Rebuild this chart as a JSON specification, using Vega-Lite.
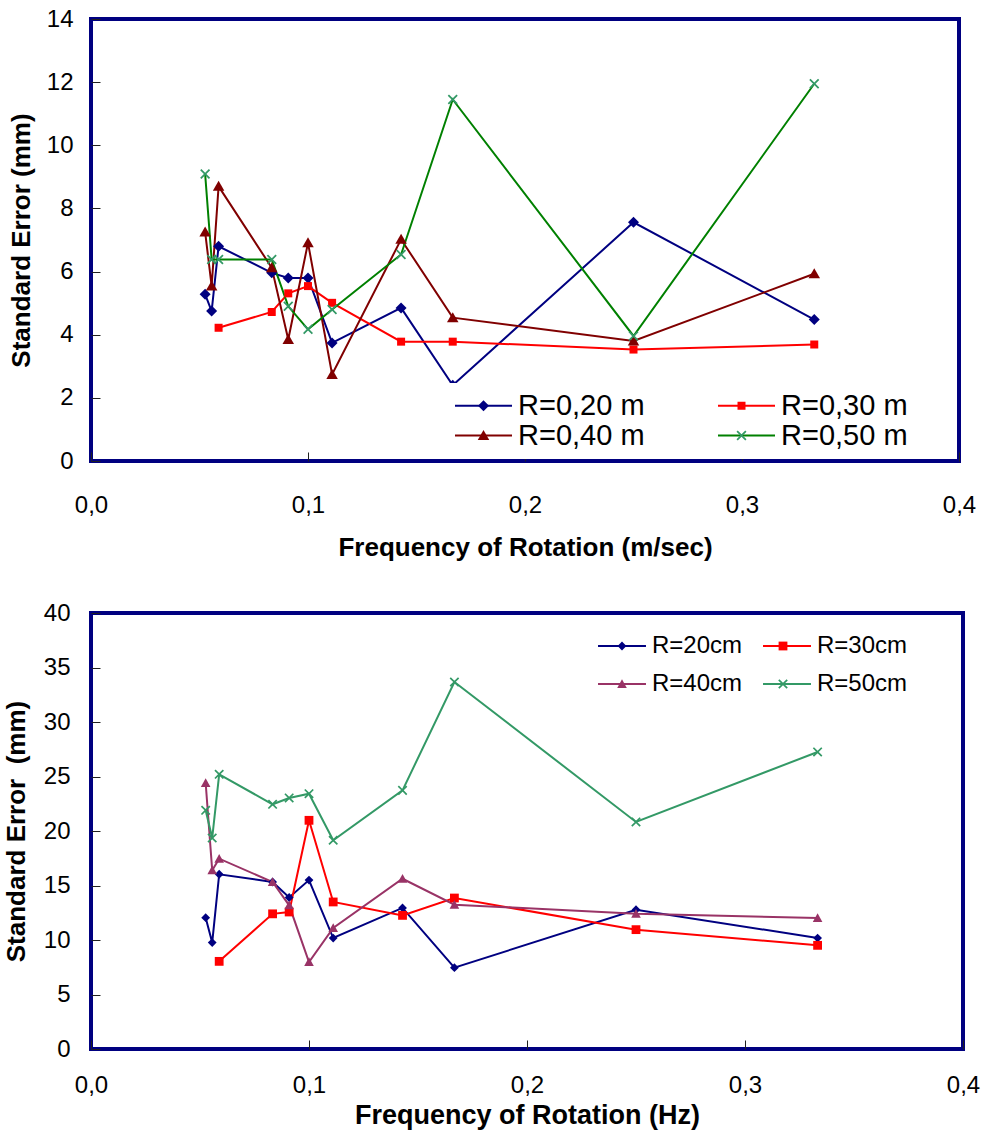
{
  "$schema": "https://vega.github.io/schema/vega-lite/v6.json",
  "background": "white",
  "padding": {"left": 1, "top": 5, "right": 0, "bottom": 0},
  "spacing": 37,
  "config": {
    "font": "Liberation Sans, Arial, sans-serif",
    "view": {"stroke": "#000080", "strokeWidth": 4},
    "axis": {
      "domain": false,
      "grid": false,
      "ticks": true,
      "tickColor": "#202020",
      "tickWidth": 1,
      "tickSize": -9,
      "labelFont": "Liberation Sans, Arial, sans-serif",
      "labelFontSize": 24,
      "labelColor": "#000000",
      "labelFlush": false,
      "labelOverlap": false,
      "titleFont": "Liberation Sans, Arial, sans-serif",
      "titleFontSize": 26,
      "titleFontWeight": "bold",
      "titleColor": "#000000"
    },
    "legend": {"labelFont": "Liberation Sans, Arial, sans-serif", "labelColor": "#000000", "labelLimit": 0}
  },
  "datasets": {
    "top": [
      {"s": "R=0,20 m", "m": "R=0,20 m", "x": 0.0526, "y": 5.28},
      {"s": "R=0,20 m", "m": "R=0,20 m", "x": 0.0556, "y": 4.75},
      {"s": "R=0,20 m", "m": "R=0,20 m", "x": 0.0588, "y": 6.8},
      {"s": "R=0,20 m", "m": "R=0,20 m", "x": 0.0833, "y": 5.96},
      {"s": "R=0,20 m", "m": "R=0,20 m", "x": 0.0909, "y": 5.8},
      {"s": "R=0,20 m", "m": "R=0,20 m", "x": 0.1, "y": 5.8},
      {"s": "R=0,20 m", "m": "R=0,20 m", "x": 0.1111, "y": 3.74},
      {"s": "R=0,20 m", "m": "R=0,20 m", "x": 0.1429, "y": 4.85},
      {"s": "R=0,20 m", "m": "R=0,20 m", "x": 0.1667, "y": 2.4},
      {"s": "R=0,20 m", "m": "R=0,20 m", "x": 0.25, "y": 7.56},
      {"s": "R=0,20 m", "m": "R=0,20 m", "x": 0.3333, "y": 4.48},
      {"s": "R=0,30 m", "m": "R=0,30 m", "x": 0.0588, "y": 4.22},
      {"s": "R=0,30 m", "m": "R=0,30 m", "x": 0.0833, "y": 4.72},
      {"s": "R=0,30 m", "m": "R=0,30 m", "x": 0.0909, "y": 5.31},
      {"s": "R=0,30 m", "m": "R=0,30 m", "x": 0.1, "y": 5.54},
      {"s": "R=0,30 m", "m": "R=0,30 m", "x": 0.1111, "y": 5.01},
      {"s": "R=0,30 m", "m": "R=0,30 m", "x": 0.1429, "y": 3.78},
      {"s": "R=0,30 m", "m": "R=0,30 m", "x": 0.1667, "y": 3.78},
      {"s": "R=0,30 m", "m": "R=0,30 m", "x": 0.25, "y": 3.53},
      {"s": "R=0,30 m", "m": "R=0,30 m", "x": 0.3333, "y": 3.69},
      {"s": "R=0,40 m", "m": "R=0,40 m", "x": 0.0526, "y": 7.25},
      {"s": "R=0,40 m", "m": "R=0,40 m", "x": 0.0556, "y": 5.54},
      {"s": "R=0,40 m", "m": "R=0,40 m", "x": 0.0588, "y": 8.7},
      {"s": "R=0,40 m", "m": "R=0,40 m", "x": 0.0833, "y": 6.12},
      {"s": "R=0,40 m", "m": "R=0,40 m", "x": 0.0909, "y": 3.85},
      {"s": "R=0,40 m", "m": "R=0,40 m", "x": 0.1, "y": 6.91},
      {"s": "R=0,40 m", "m": "R=0,40 m", "x": 0.1111, "y": 2.74},
      {"s": "R=0,40 m", "m": "R=0,40 m", "x": 0.1429, "y": 7.02},
      {"s": "R=0,40 m", "m": "R=0,40 m", "x": 0.1667, "y": 4.54},
      {"s": "R=0,40 m", "m": "R=0,40 m", "x": 0.25, "y": 3.8},
      {"s": "R=0,40 m", "m": "R=0,40 m", "x": 0.3333, "y": 5.93},
      {"s": "R=0,50 m", "m": "R=0,50 m", "x": 0.0526, "y": 9.09},
      {"s": "R=0,50 m", "m": "R=0,50 m", "x": 0.0556, "y": 6.38},
      {"s": "R=0,50 m", "m": "R=0,50 m", "x": 0.0588, "y": 6.38},
      {"s": "R=0,50 m", "m": "R=0,50 m", "x": 0.0833, "y": 6.38},
      {"s": "R=0,50 m", "m": "R=0,50 m", "x": 0.0909, "y": 4.9},
      {"s": "R=0,50 m", "m": "R=0,50 m", "x": 0.1, "y": 4.17},
      {"s": "R=0,50 m", "m": "R=0,50 m", "x": 0.1111, "y": 4.8},
      {"s": "R=0,50 m", "m": "R=0,50 m", "x": 0.1429, "y": 6.54},
      {"s": "R=0,50 m", "m": "R=0,50 m", "x": 0.1667, "y": 11.45},
      {"s": "R=0,50 m", "m": "R=0,50 m", "x": 0.25, "y": 3.96},
      {"s": "R=0,50 m", "m": "R=0,50 m", "x": 0.3333, "y": 11.95}
    ],
    "bottom": [
      {"s": "R=20cm", "m": "R=20cm", "x": 0.0526, "y": 12.05},
      {"s": "R=20cm", "m": "R=20cm", "x": 0.0556, "y": 9.76},
      {"s": "R=20cm", "m": "R=20cm", "x": 0.0588, "y": 16.03},
      {"s": "R=20cm", "m": "R=20cm", "x": 0.0833, "y": 15.32},
      {"s": "R=20cm", "m": "R=20cm", "x": 0.0909, "y": 13.9},
      {"s": "R=20cm", "m": "R=20cm", "x": 0.1, "y": 15.5},
      {"s": "R=20cm", "m": "R=20cm", "x": 0.1111, "y": 10.18},
      {"s": "R=20cm", "m": "R=20cm", "x": 0.1429, "y": 12.94},
      {"s": "R=20cm", "m": "R=20cm", "x": 0.1667, "y": 7.46},
      {"s": "R=20cm", "m": "R=20cm", "x": 0.25, "y": 12.78},
      {"s": "R=20cm", "m": "R=20cm", "x": 0.3333, "y": 10.18},
      {"s": "R=30cm", "m": "R=30cm", "x": 0.0588, "y": 8.04},
      {"s": "R=30cm", "m": "R=30cm", "x": 0.0833, "y": 12.4},
      {"s": "R=30cm", "m": "R=30cm", "x": 0.0909, "y": 12.57},
      {"s": "R=30cm", "m": "R=30cm", "x": 0.1, "y": 20.98},
      {"s": "R=30cm", "m": "R=30cm", "x": 0.1111, "y": 13.49},
      {"s": "R=30cm", "m": "R=30cm", "x": 0.1429, "y": 12.26},
      {"s": "R=30cm", "m": "R=30cm", "x": 0.1667, "y": 13.85},
      {"s": "R=30cm", "m": "R=30cm", "x": 0.25, "y": 10.95},
      {"s": "R=30cm", "m": "R=30cm", "x": 0.3333, "y": 9.51},
      {"s": "R=40cm", "m": "R=40cm", "x": 0.0526, "y": 24.4},
      {"s": "R=40cm", "m": "R=40cm", "x": 0.0556, "y": 16.39},
      {"s": "R=40cm", "m": "R=40cm", "x": 0.0588, "y": 17.46},
      {"s": "R=40cm", "m": "R=40cm", "x": 0.0833, "y": 15.32},
      {"s": "R=40cm", "m": "R=40cm", "x": 0.0909, "y": 13.18},
      {"s": "R=40cm", "m": "R=40cm", "x": 0.1, "y": 7.98},
      {"s": "R=40cm", "m": "R=40cm", "x": 0.1111, "y": 11.1},
      {"s": "R=40cm", "m": "R=40cm", "x": 0.1429, "y": 15.62},
      {"s": "R=40cm", "m": "R=40cm", "x": 0.1667, "y": 13.24},
      {"s": "R=40cm", "m": "R=40cm", "x": 0.25, "y": 12.41},
      {"s": "R=40cm", "m": "R=40cm", "x": 0.3333, "y": 12.02},
      {"s": "R=50cm", "m": "R=50cm", "x": 0.0526, "y": 21.9},
      {"s": "R=50cm", "m": "R=50cm", "x": 0.0556, "y": 19.36},
      {"s": "R=50cm", "m": "R=50cm", "x": 0.0588, "y": 25.2},
      {"s": "R=50cm", "m": "R=50cm", "x": 0.0833, "y": 22.45},
      {"s": "R=50cm", "m": "R=50cm", "x": 0.0909, "y": 23.03},
      {"s": "R=50cm", "m": "R=50cm", "x": 0.1, "y": 23.42},
      {"s": "R=50cm", "m": "R=50cm", "x": 0.1111, "y": 19.15},
      {"s": "R=50cm", "m": "R=50cm", "x": 0.1429, "y": 23.73},
      {"s": "R=50cm", "m": "R=50cm", "x": 0.1667, "y": 33.67},
      {"s": "R=50cm", "m": "R=50cm", "x": 0.25, "y": 20.83},
      {"s": "R=50cm", "m": "R=50cm", "x": 0.3333, "y": 27.25}
    ]
  },
  "resolve": {
    "scale": {"stroke": "independent", "fill": "independent", "shape": "independent"},
    "legend": {"stroke": "independent", "fill": "independent", "shape": "independent"}
  },
  "vconcat": [
    {
      "width": 868,
      "height": 442,
      "data": {"name": "top"},
      "encoding": {
        "x": {
          "field": "x", "type": "quantitative",
          "scale": {"domain": [0, 0.4], "nice": false},
          "axis": {"values": [0, 0.1, 0.2, 0.3, 0.4], "labelExpr": "replace(format(datum.value, '.1f'), '.', ',')", "title": "Frequency of Rotation (m/sec)", "labelPadding": 41, "titlePadding": 17}
        },
        "y": {
          "field": "y", "type": "quantitative",
          "scale": {"domain": [0, 14], "nice": false},
          "axis": {"values": [0, 2, 4, 6, 8, 10, 12, 14], "title": "Standard Error (mm)", "labelPadding": 27, "titlePadding": 12}
        }
      },
      "layer": [
        {
          "mark": {"type": "line", "strokeWidth": 2},
          "encoding": {
            "stroke": {
              "field": "s", "type": "nominal",
              "scale": {"range": ["#000080", "#FF0000", "#800000", "#008000"]},
              "legend": {"orient": "none", "direction": "horizontal", "legendX": 356, "legendY": 364, "columns": 2, "title": null, "symbolType": "M-5,0L5,0", "symbolSize": 130, "symbolStrokeWidth": 2, "symbolOffset": 14, "labelFontSize": 29, "labelOffset": 20, "columnPadding": 68, "rowPadding": -2, "padding": 8, "fillColor": "white", "zindex": 1}
            }
          }
        },
        {
          "mark": {"type": "point", "filled": true, "size": 100, "opacity": 1, "strokeWidth": 0},
          "encoding": {
            "shape": {
              "field": "m", "type": "nominal",
              "scale": {"range": ["M0,-1.1L1.1,0L0,1.1L-1.1,0Z", "M-0.8,-0.8L0.8,-0.8L0.8,0.8L-0.8,0.8Z", "M0,-1.1L1.15,0.9L-1.15,0.9Z", "M-1,-0.75L-0.75,-1L0,-0.25L0.75,-1L1,-0.75L0.25,0L1,0.75L0.75,1L0,0.25L-0.75,1L-1,0.75L-0.25,0Z"]},
              "legend": {"orient": "none", "direction": "horizontal", "legendX": 356, "legendY": 364, "columns": 2, "title": null, "symbolSize": 100, "symbolStrokeWidth": 0, "symbolOffset": 14, "labelFontSize": 29, "labelOpacity": 0, "labelOffset": 20, "columnPadding": 68, "rowPadding": -2, "padding": 8, "zindex": 2}
            },
            "fill": {
              "field": "m", "type": "nominal",
              "scale": {"range": ["#000080", "#FF0000", "#800000", "#339966"]},
              "legend": {"orient": "none", "direction": "horizontal", "legendX": 356, "legendY": 364, "columns": 2, "title": null, "symbolSize": 100, "symbolStrokeWidth": 0, "symbolOffset": 14, "labelFontSize": 29, "labelOpacity": 0, "labelOffset": 20, "columnPadding": 68, "rowPadding": -2, "padding": 8, "zindex": 2}
            }
          }
        }
      ]
    },
    {
      "width": 872,
      "height": 436,
      "data": {"name": "bottom"},
      "encoding": {
        "x": {
          "field": "x", "type": "quantitative",
          "scale": {"domain": [0, 0.4], "nice": false},
          "axis": {"values": [0, 0.1, 0.2, 0.3, 0.4], "labelExpr": "replace(format(datum.value, '.1f'), '.', ',')", "title": "Frequency of Rotation (Hz)", "labelPadding": 33, "titlePadding": 5, "titleFontSize": 27}
        },
        "y": {
          "field": "y", "type": "quantitative",
          "scale": {"domain": [0, 40], "nice": false},
          "axis": {"values": [0, 5, 10, 15, 20, 25, 30, 35, 40], "title": "Standard Error \u00a0(mm)", "labelPadding": 30, "titlePadding": 14}
        }
      },
      "layer": [
        {
          "mark": {"type": "line", "strokeWidth": 2},
          "encoding": {
            "stroke": {
              "field": "s", "type": "nominal",
              "scale": {"range": ["#000080", "#FF0000", "#993366", "#339966"]},
              "legend": {"orient": "none", "direction": "horizontal", "legendX": 507, "legendY": 21, "columns": 2, "title": null, "symbolType": "M-5,0L5,0", "symbolSize": 92, "symbolStrokeWidth": 2, "symbolOffset": 12, "labelFontSize": 24, "labelOffset": 18, "columnPadding": 16, "rowPadding": 14, "padding": 0, "zindex": 1}
            }
          }
        },
        {
          "mark": {"type": "point", "filled": true, "size": 64, "opacity": 1, "strokeWidth": 0},
          "encoding": {
            "shape": {
              "field": "m", "type": "nominal",
              "scale": {"range": ["M0,-1.1L1.1,0L0,1.1L-1.1,0Z", "M-1.1,-1.1L1.1,-1.1L1.1,1.1L-1.1,1.1Z", "M0,-1.2L1.2,1L-1.2,1Z", "M-1.2,-0.9L-0.9,-1.2L0,-0.3L0.9,-1.2L1.2,-0.9L0.3,0L1.2,0.9L0.9,1.2L0,0.3L-0.9,1.2L-1.2,0.9L-0.3,0Z"]},
              "legend": {"orient": "none", "direction": "horizontal", "legendX": 507, "legendY": 21, "columns": 2, "title": null, "symbolSize": 64, "symbolStrokeWidth": 0, "symbolOffset": 12, "labelFontSize": 24, "labelOpacity": 0, "labelOffset": 18, "columnPadding": 16, "rowPadding": 14, "padding": 0, "zindex": 2}
            },
            "fill": {
              "field": "m", "type": "nominal",
              "scale": {"range": ["#000080", "#FF0000", "#993366", "#339966"]},
              "legend": {"orient": "none", "direction": "horizontal", "legendX": 507, "legendY": 21, "columns": 2, "title": null, "symbolSize": 64, "symbolStrokeWidth": 0, "symbolOffset": 12, "labelFontSize": 24, "labelOpacity": 0, "labelOffset": 18, "columnPadding": 16, "rowPadding": 14, "padding": 0, "zindex": 2}
            }
          }
        }
      ]
    }
  ]
}
